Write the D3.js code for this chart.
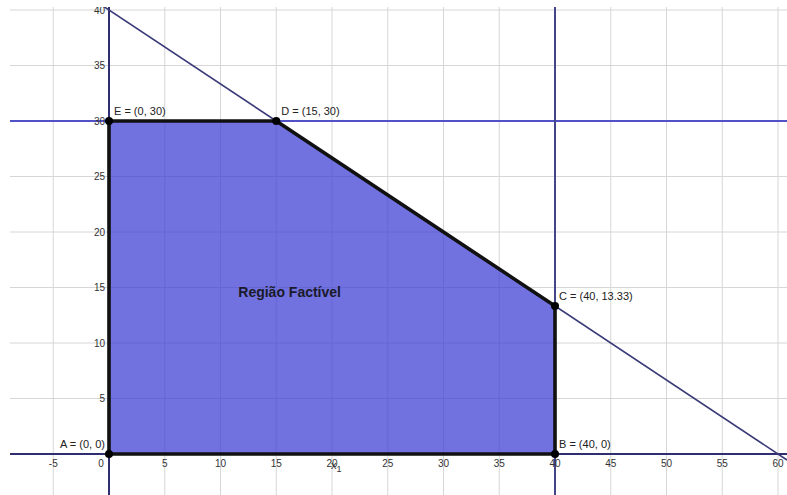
<!DOCTYPE html>
<html>
<head>
<meta charset="utf-8">
<script src="https://cdn.jsdelivr.net/npm/d3@7"></script>
<style>
  html, body { margin: 0; padding: 0; background: #fff; }
  svg { display: block; font-family: "Liberation Sans", Arial, sans-serif; }
</style>
</head>
<body>
<svg id="chart" width="787" height="495"></svg>
<script>
// ---- data ----
const vertexNames = ["A", "B", "C", "D", "E"];
const vertexX = [0, 40, 40, 15, 0];
const vertexY = [0, 0, 13.33, 30, 30];
const vertexLabels = ["A = (0, 0)", "B = (40, 0)", "C = (40, 13.33)", "D = (15, 30)", "E = (0, 30)"];
const xTicks = [-5, 0, 5, 10, 15, 20, 25, 30, 35, 40, 45, 50, 55, 60];
const yTicks = [5, 10, 15, 20, 25, 30, 35, 40];
const xGrid = [-5, 0, 5, 10, 15, 20, 25, 30, 35, 40, 45, 50, 55, 60];
const yGrid = [0, 5, 10, 15, 20, 25, 30, 35, 40];
// constraint 2x + 3y = 120 : intercepts
const diagX = [0, 60];
const diagY = [40, 0];
const hLineY = 30;   // x2 = 30
const vLineX = 40;   // x1 = 40
const regionLabel = "Região Factível";
const regionLabelPos = [16.2, 14.1];

// ---- scales ----
const W = 787, H = 495;
const plotLeft = 10, plotTop = 7;
const x = d3.scaleLinear().domain([0, 40]).range([109, 555]);
const y = d3.scaleLinear().domain([0, 30]).range([454, 121]);
const xmax = x.invert(W);

const svg = d3.select("#chart");
svg.append("defs").append("clipPath").attr("id", "clip")
  .append("rect").attr("x", plotLeft).attr("y", plotTop).attr("width", W - plotLeft).attr("height", H - plotTop);
const g = svg.append("g").attr("clip-path", "url(#clip)");

// grid
g.selectAll(".gx").data(xGrid).join("line")
  .attr("x1", d => x(d)).attr("x2", d => x(d))
  .attr("y1", plotTop).attr("y2", H)
  .attr("stroke", "#d6d6d6").attr("stroke-width", 1);
g.selectAll(".gy").data(yGrid).join("line")
  .attr("y1", d => y(d)).attr("y2", d => y(d))
  .attr("x1", plotLeft).attr("x2", W)
  .attr("stroke", "#d6d6d6").attr("stroke-width", 1);

// polygon fill (semi-transparent like GeoGebra)
const pts = vertexX.map((v, i) => [x(v), y(vertexY[i])]);
g.append("polygon")
  .attr("points", pts.map(p => p.join(",")).join(" "))
  .attr("fill", "rgb(58,58,212)").attr("fill-opacity", 0.72);

// x axis (x2 = 0)
g.append("line").attr("x1", plotLeft).attr("x2", W).attr("y1", y(0)).attr("y2", y(0))
  .attr("stroke", "#2e2e70").attr("stroke-width", 2);
// y axis (x1 = 0)
g.append("line").attr("x1", x(0)).attr("x2", x(0)).attr("y1", plotTop).attr("y2", H)
  .attr("stroke", "#2e2e70").attr("stroke-width", 2);
// horizontal constraint
g.append("line").attr("x1", plotLeft).attr("x2", W).attr("y1", y(hLineY)).attr("y2", y(hLineY))
  .attr("stroke", "#5252c8").attr("stroke-width", 2);
// vertical constraint
g.append("line").attr("x1", x(vLineX)).attr("x2", x(vLineX)).attr("y1", plotTop).attr("y2", H)
  .attr("stroke", "#44448a").attr("stroke-width", 2);
// diagonal constraint
const slope = (diagY[1] - diagY[0]) / (diagX[1] - diagX[0]);
const fx = v => diagY[0] + slope * (v - diagX[0]);
const xa = -5, xb = xmax;
g.append("line")
  .attr("x1", x(xa)).attr("y1", y(fx(xa)))
  .attr("x2", x(xb)).attr("y2", y(fx(xb)))
  .attr("stroke", "#3a3a78").attr("stroke-width", 1.6);

// polygon border
g.append("polygon")
  .attr("points", pts.map(p => p.join(",")).join(" "))
  .attr("fill", "none").attr("stroke", "#111").attr("stroke-width", 3.6)
  .attr("stroke-linejoin", "round");

// tick labels
g.selectAll(".xt").data(xTicks).join("text")
  .attr("x", d => d === 0 ? x(d) - 8 : x(d))
  .attr("y", y(0) + 13)
  .attr("text-anchor", "middle")
  .attr("font-size", 10).attr("fill", "#333")
  .text(d => d);
g.selectAll(".yt").data(yTicks).join("text")
  .attr("x", x(0) - 4)
  .attr("y", d => y(d) + 3.5)
  .attr("text-anchor", "end")
  .attr("font-size", 10).attr("fill", "#333")
  .text(d => d);

// axis name x1
const xl = g.append("text").attr("x", x(20) - 1).attr("y", y(0) + 15)
  .attr("font-size", 11).attr("fill", "#333");
xl.append("tspan").text("x");
xl.append("tspan").attr("dy", 3).attr("font-size", 9).text("1");

// points
g.selectAll(".pt").data(pts).join("circle")
  .attr("cx", d => d[0]).attr("cy", d => d[1]).attr("r", 4)
  .attr("fill", "#000");

// point labels
const labelOffset = {
  A: [-4, -6, "end"], B: [4, -6, "start"], C: [4, -6, "start"],
  D: [5, -6, "start"], E: [5, -6, "start"]
};
g.selectAll(".pl").data(vertexNames).join("text")
  .attr("x", (d, i) => pts[i][0] + labelOffset[d][0])
  .attr("y", (d, i) => pts[i][1] + labelOffset[d][1])
  .attr("text-anchor", d => labelOffset[d][2])
  .attr("font-size", 11).attr("fill", "#222")
  .text((d, i) => vertexLabels[i]);

// region label
g.append("text")
  .attr("x", x(regionLabelPos[0])).attr("y", y(regionLabelPos[1]))
  .attr("text-anchor", "middle")
  .attr("font-size", 14).attr("font-weight", "bold").attr("fill", "#1a1a2a")
  .text(regionLabel);
</script>
</body>
</html>
